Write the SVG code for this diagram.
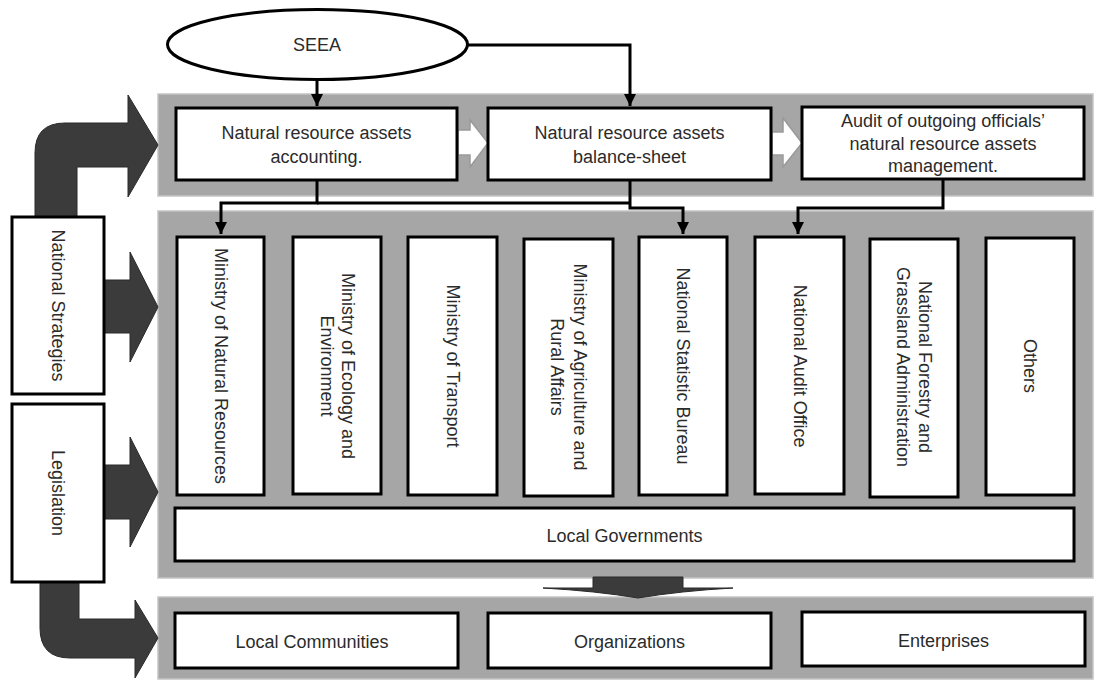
<svg xmlns="http://www.w3.org/2000/svg" width="1097" height="680" viewBox="0 0 1097 680">
<defs>
<style>
.panel{fill:#a6a6a6;stroke:#c4c4c4;stroke-width:1.5}
.box{fill:#fff;stroke:#000;stroke-width:3}
.t{font-family:"Liberation Sans",Arial,sans-serif;font-size:18px;fill:#2b2b2b;text-anchor:middle}
.dark{fill:#3b3b3b;stroke:#2a2a2a;stroke-width:1}
.hollow{fill:#fff;stroke:#9a9a9a;stroke-width:1.5}
.con{fill:none;stroke:#000;stroke-width:3}
</style>
<marker id="ah" markerUnits="userSpaceOnUse" markerWidth="12" markerHeight="12" refX="10" refY="5" orient="auto" viewBox="0 0 10 10">
<path d="M0,0 L10,5 L0,10 z" fill="#000"/>
</marker>
</defs>
<rect width="1097" height="680" fill="#fff"/>

<g id="panels">
<rect class="panel" x="158" y="94" width="935" height="102"/>
<rect class="panel" x="158" y="211" width="935" height="367"/>
<rect class="panel" x="158" y="597" width="935" height="82"/>
</g>

<g id="big-arrows">
<path class="dark" d="M35,217 V153 Q35,123 65,123 H128 V95 L158,145 L128,197 V167 H77 V217 Z"/>
<path class="dark" d="M104,280 H130 V252 L158,307 L130,362 V333 H104 Z"/>
<path class="dark" d="M104,465 H130 V437 L158,492 L130,547 V519 H104 Z"/>
<path class="dark" d="M40,582 V628 Q40,658 70,658 H135 V678 L158,638 L135,600 V619 H79 V582 Z"/>
<path class="dark" d="M593,577 H683 V588 L733,588 Q680,591 638,598 Q596,591 543,588 L593,588 Z"/>
<path class="hollow" d="M458,130 H470 V120 L488,143 L470,167 V155 H458 Z"/>
<path class="hollow" d="M772,132 H783 V118 L802,143 L783,167 V155 H772 Z"/>
</g>

<g id="seea">
<ellipse cx="317.5" cy="44.5" rx="150" ry="35" fill="#fff" stroke="#000" stroke-width="3"/>
<text class="t" x="317" y="51">SEEA</text>
</g>

<g id="connectors">
<path class="con" d="M317,80 V106" marker-end="url(#ah)"/>
<path class="con" d="M467,45 H630 V106" marker-end="url(#ah)"/>
<path class="con" d="M317,180 V203 H221 V234" marker-end="url(#ah)"/>
<path class="con" d="M317,203 H630"/>
<path class="con" d="M630,180 V208 H683 V234" marker-end="url(#ah)"/>
<path class="con" d="M943,179 V208 H798 V234" marker-end="url(#ah)"/>
</g>

<g id="accounting">
<rect class="box" x="176" y="108" width="281" height="72"/>
<text class="t" x="316.5" y="139">Natural resource assets</text>
<text class="t" x="316.5" y="163">accounting.</text>
</g>
<g id="balance-sheet">
<rect class="box" x="488" y="108" width="283" height="72"/>
<text class="t" x="629.5" y="139">Natural resource assets</text>
<text class="t" x="629.5" y="163">balance-sheet</text>
</g>
<g id="audit">
<rect class="box" x="802" y="107" width="282" height="72"/>
<text class="t" x="943" y="127">Audit of outgoing officials’</text>
<text class="t" x="943" y="150">natural resource assets</text>
<text class="t" x="943" y="172">management.</text>
</g>

<g id="national-strategies">
<rect class="box" x="12" y="217" width="92" height="177"/>
<text class="t" transform="translate(58,305.5) rotate(90)" y="6">National Strategies</text>
</g>
<g id="legislation">
<rect class="box" x="12" y="404" width="92" height="178"/>
<text class="t" transform="translate(58,493) rotate(90)" y="6">Legislation</text>
</g>

<g id="ministry-natural-resources">
<rect class="box" x="177" y="237" width="87" height="258"/>
<text class="t" transform="translate(220.5,366) rotate(90)" y="6">Ministry of Natural Resources</text>
</g>
<g id="ministry-ecology">
<rect class="box" x="293" y="237" width="88" height="257"/>
<text class="t" transform="translate(337,366) rotate(90)"><tspan x="0" y="-4.5">Ministry of Ecology and</tspan><tspan x="0" y="16.5">Environment</tspan></text>
</g>
<g id="ministry-transport">
<rect class="box" x="408" y="237" width="89" height="258"/>
<text class="t" transform="translate(452.5,366) rotate(90)" y="6">Ministry of Transport</text>
</g>
<g id="ministry-agriculture">
<rect class="box" x="524" y="239" width="89" height="257"/>
<text class="t" transform="translate(568.5,367) rotate(90)"><tspan x="0" y="-5.5">Ministry of Agriculture and</tspan><tspan x="0" y="17.5">Rural Affairs</tspan></text>
</g>
<g id="national-statistic-bureau">
<rect class="box" x="639" y="237" width="88" height="258"/>
<text class="t" transform="translate(683,366) rotate(90)" y="6">National Statistic Bureau</text>
</g>
<g id="national-audit-office">
<rect class="box" x="755" y="237" width="89" height="257"/>
<text class="t" transform="translate(799.5,366) rotate(90)" y="6">National Audit Office</text>
</g>
<g id="national-forestry">
<rect class="box" x="870" y="239" width="88" height="258"/>
<text class="t" transform="translate(914,367) rotate(90)"><tspan x="0" y="-5">National Forestry and</tspan><tspan x="0" y="17">Grassland Administration</tspan></text>
</g>
<g id="others">
<rect class="box" x="986" y="238" width="88" height="257"/>
<text class="t" transform="translate(1030,366) rotate(90)" y="6">Others</text>
</g>

<g id="local-governments">
<rect class="box" x="175" y="508" width="899" height="53"/>
<text class="t" x="624.5" y="542">Local Governments</text>
</g>

<g id="local-communities">
<rect class="box" x="175" y="613" width="283" height="55"/>
<text class="t" x="312" y="648">Local Communities</text>
</g>
<g id="organizations">
<rect class="box" x="488" y="613" width="283" height="55"/>
<text class="t" x="629.5" y="648">Organizations</text>
</g>
<g id="enterprises">
<rect class="box" x="802" y="612" width="283" height="54"/>
<text class="t" x="943.5" y="647">Enterprises</text>
</g>
</svg>
